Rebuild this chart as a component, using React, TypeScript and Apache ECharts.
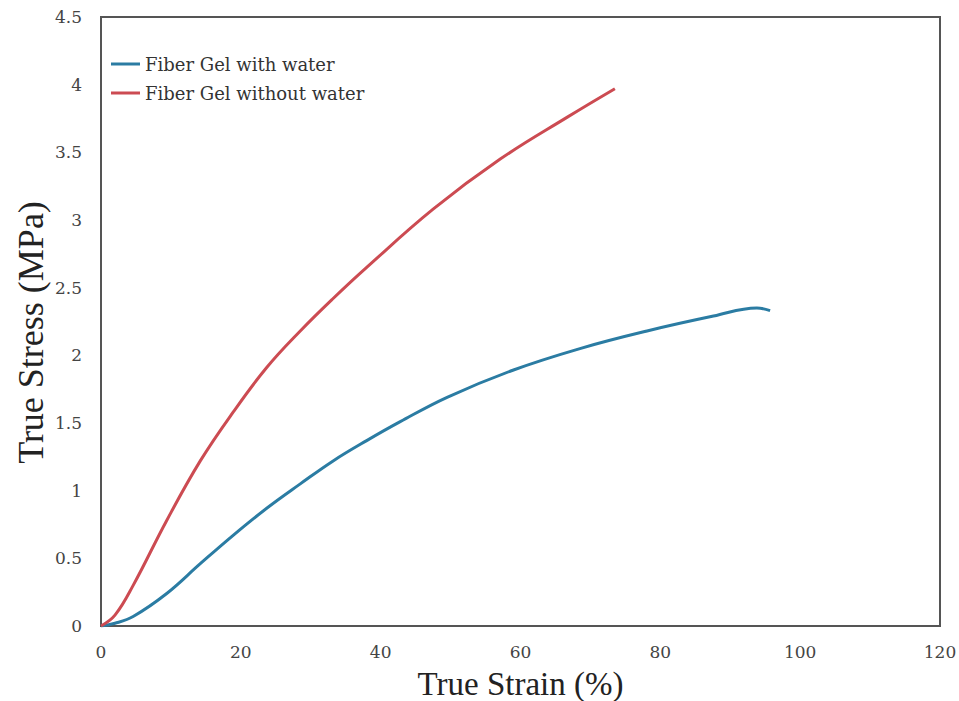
import React, { useEffect, useRef } from "react";
import * as echarts from "echarts";

const seriesNames = ["Fiber Gel with water", "Fiber Gel without water"];

const withWaterStrain = [0, 2, 4.6, 9.4, 14.2, 18.9, 23.7, 28.5, 33.2, 38.0, 42.8, 49.5, 58.9, 68.5, 78.1, 87.6, 93.8, 95.7];
const withWaterStress = [0, 0.02, 0.07, 0.24, 0.46, 0.67, 0.87, 1.05, 1.22, 1.37, 1.51, 1.69, 1.89, 2.05, 2.18, 2.29, 2.35, 2.33];

const withoutWaterStrain = [0, 2, 4.6, 9.4, 14.2, 18.9, 23.7, 28.5, 33.2, 38.0, 47.5, 57.1, 66.7, 73.5];
const withoutWaterStress = [0, 0.08, 0.3, 0.78, 1.22, 1.58, 1.91, 2.18, 2.42, 2.65, 3.08, 3.45, 3.76, 3.97];

const xTicks = [0, 20, 40, 60, 80, 100, 120];
const yTicks = [0, 0.5, 1, 1.5, 2, 2.5, 3, 3.5, 4, 4.5];

const colors = ["#2b7ca3", "#cc4b52"];
const titleFont = "'Liberation Serif', 'DejaVu Serif', serif";
const labelFont = "'DejaVu Serif', 'Liberation Serif', serif";

const zip = (xs: number[], ys: number[]) => xs.map((x, i) => [x, ys[i]]);

export default function App() {
  const ref = useRef<HTMLDivElement>(null);
  useEffect(() => {
    if (!ref.current) return;
    const chart = echarts.init(ref.current, undefined, { renderer: "svg" });
    chart.setOption({
      animation: false,
      backgroundColor: "#fff",
      grid: {
        left: 101,
        right: 19,
        top: 17,
        bottom: 75,
        show: true,
        borderColor: "#555",
        borderWidth: 2,
        outerBoundsMode: "none",
        containLabel: false,
      },
      legend: {
        data: seriesNames,
        orient: "vertical",
        left: 106,
        top: 50,
        itemGap: 11,
        itemWidth: 29,
        itemHeight: 3,
        icon: "rect",
        textStyle: { fontFamily: labelFont, fontSize: 18, color: "#333" },
      },
      xAxis: {
        type: "value",
        min: xTicks[0],
        max: xTicks[xTicks.length - 1],
        interval: 20,
        name: "True Strain (%)",
        nameLocation: "middle",
        nameGap: 41,
        nameMoveOverlap: false,
        nameTextStyle: { fontFamily: titleFont, fontSize: 33, lineHeight: 33, color: "#222" },
        axisLine: { show: true, lineStyle: { color: "#555", width: 2 } },
        axisTick: { show: false },
        splitLine: { show: false },
        axisLabel: { fontFamily: labelFont, fontSize: 17, lineHeight: 17, color: "#444", margin: 17 },
      },
      yAxis: {
        type: "value",
        min: yTicks[0],
        max: yTicks[yTicks.length - 1],
        interval: 0.5,
        name: "True Stress (MPa)",
        nameLocation: "middle",
        nameGap: 52,
        nameMoveOverlap: false,
        nameTextStyle: { fontFamily: titleFont, fontSize: 36, color: "#222", padding: [0, 22, 0, 0] },
        axisLine: { show: true, lineStyle: { color: "#555", width: 2 } },
        axisTick: { show: false },
        splitLine: { show: false },
        axisLabel: { fontFamily: labelFont, fontSize: 17, color: "#444", margin: 19 },
      },
      series: [
        {
          name: seriesNames[0],
          type: "line",
          data: zip(withWaterStrain, withWaterStress),
          smooth: 0.4,
          showSymbol: false,
          lineStyle: { color: colors[0], width: 3 },
          itemStyle: { color: colors[0] },
        },
        {
          name: seriesNames[1],
          type: "line",
          data: zip(withoutWaterStrain, withoutWaterStress),
          smooth: 0.4,
          showSymbol: false,
          lineStyle: { color: colors[1], width: 3 },
          itemStyle: { color: colors[1] },
        },
      ],
    });
    return () => chart.dispose();
  }, []);
  return <div ref={ref} style={{ width: 959, height: 701, position: "absolute", left: 0, top: 0 }} />;
}
